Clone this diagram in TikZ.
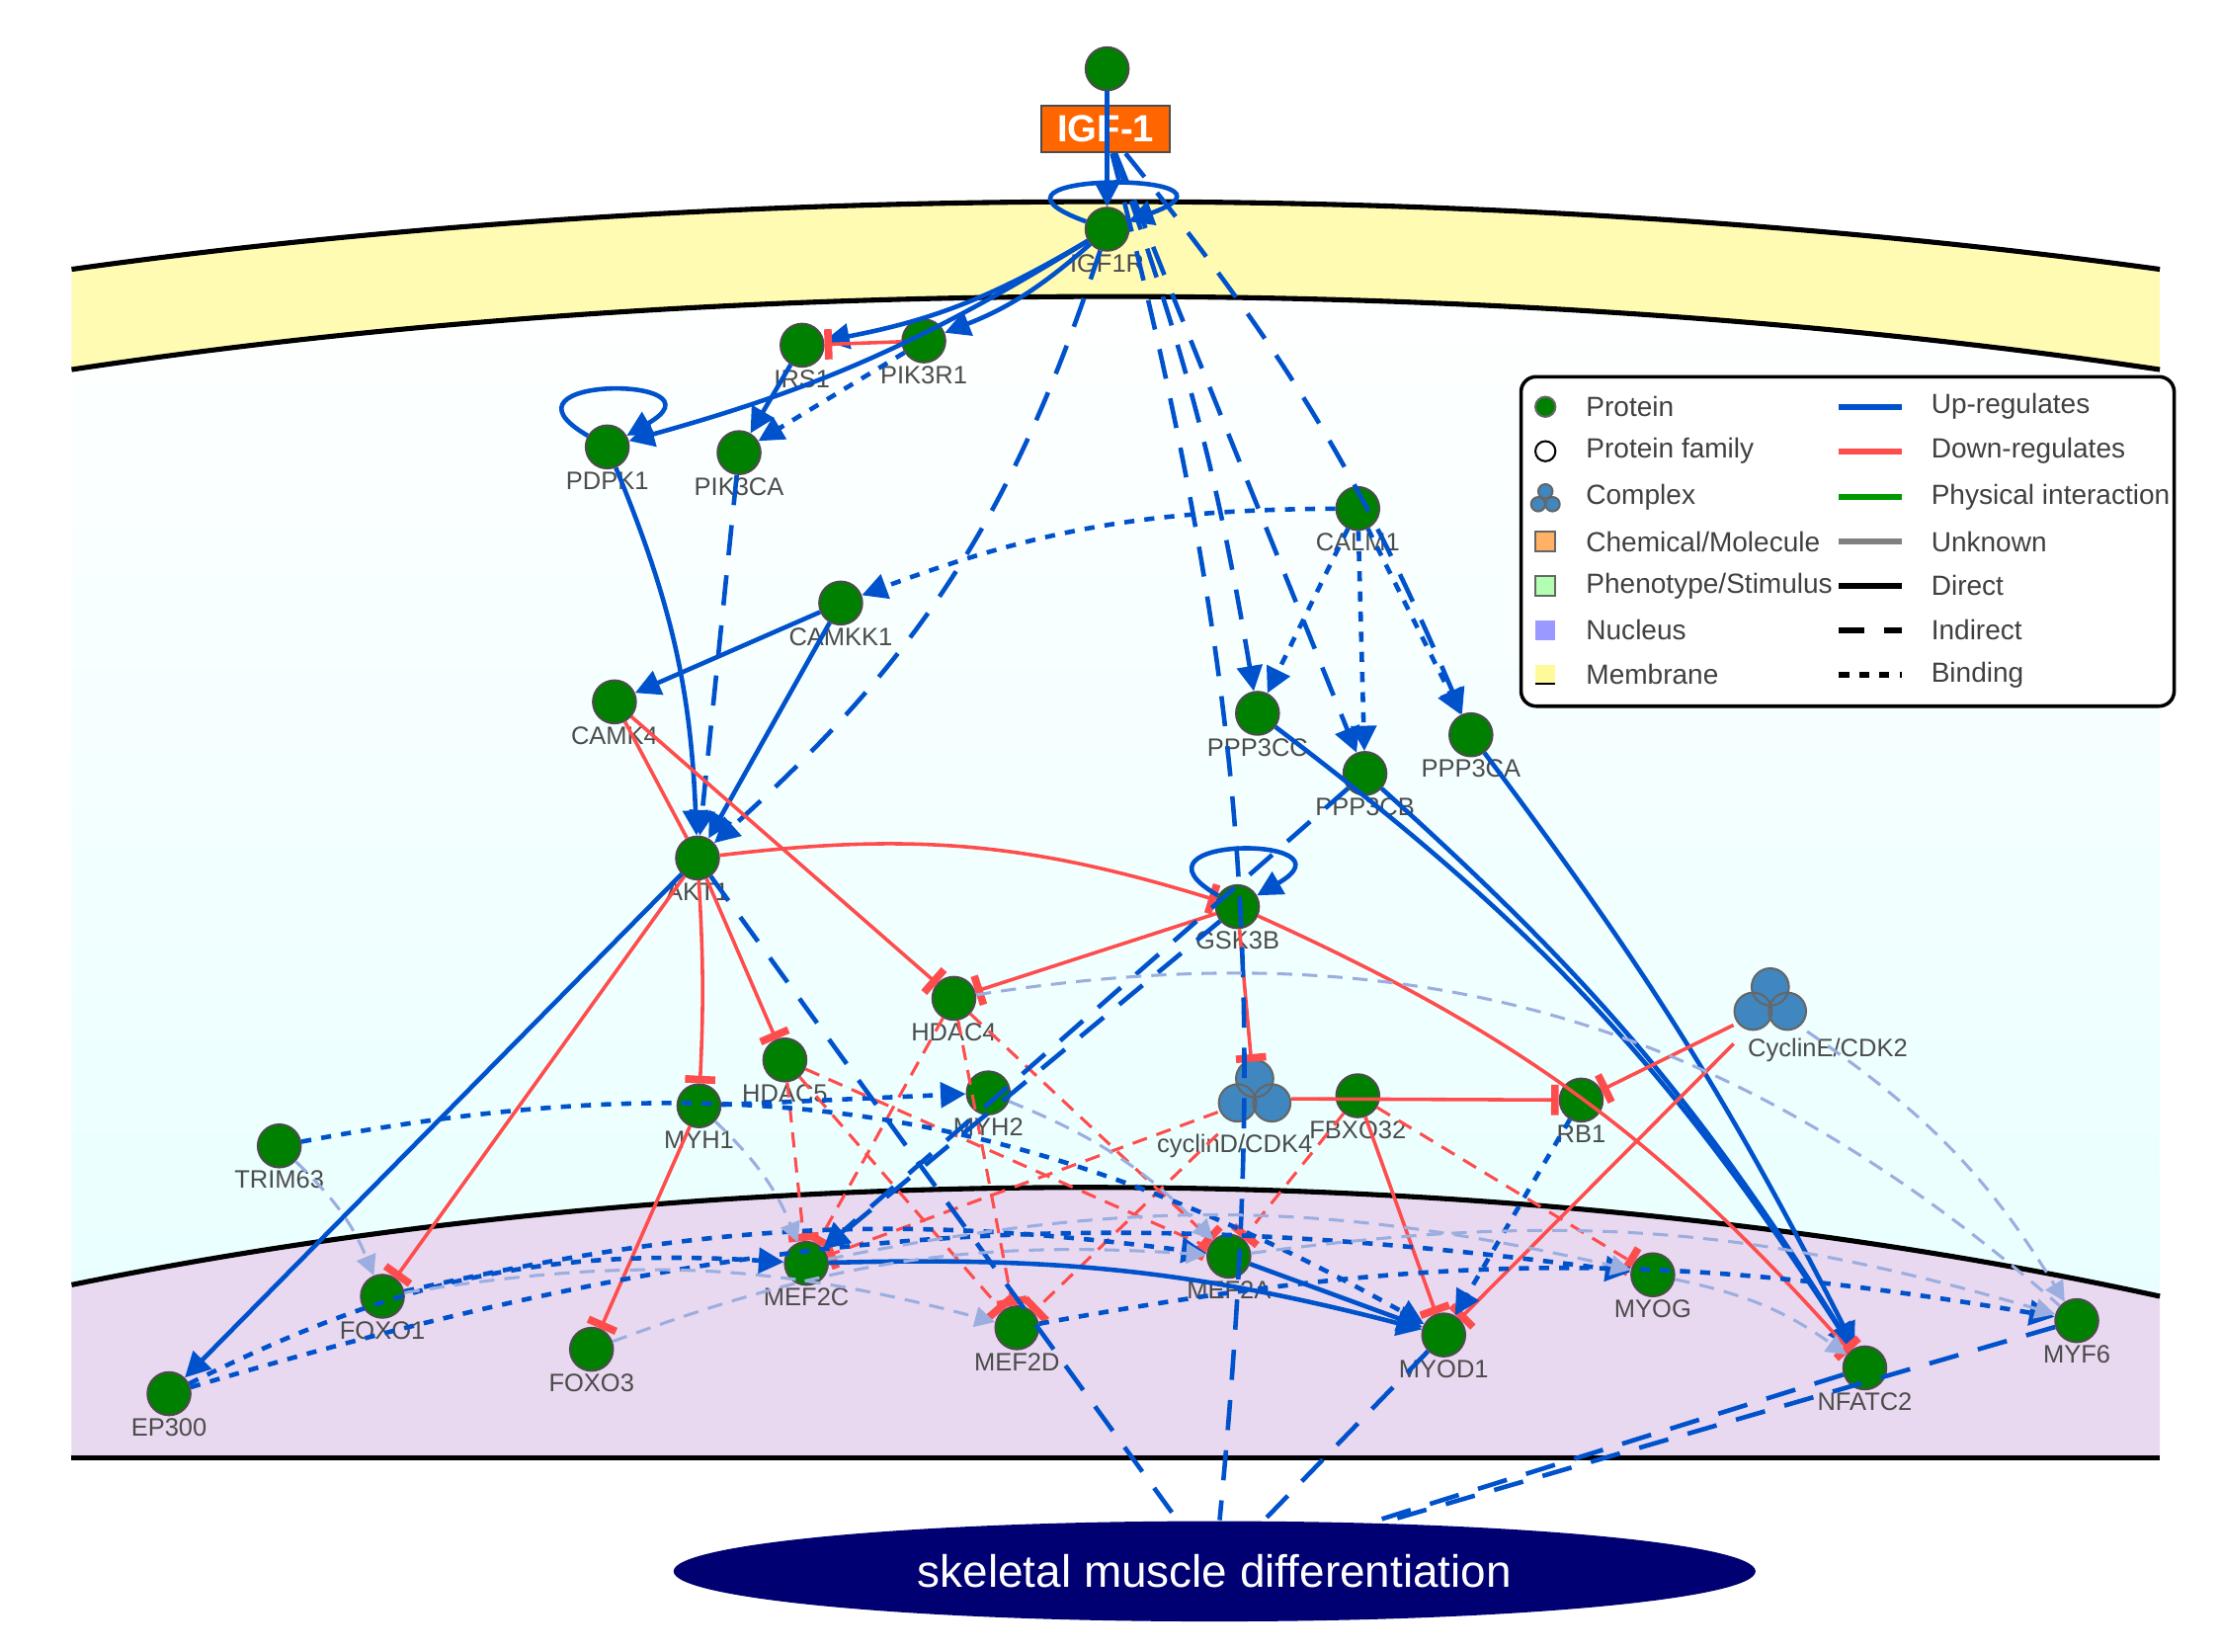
\documentclass[tikz,border=0pt]{standalone}
\usepackage{fontspec}
\setmainfont{Liberation Sans}
\usetikzlibrary{arrows.meta,shapes.geometric}
\begin{document}
\begin{tikzpicture}[x=0.01cm,y=-0.01cm,
 P/.style={circle,fill=green!50!black,draw=black!70,line width=0.4pt,minimum width=0.3cm,inner sep=0pt,label={[font=\fontsize{5}{6}\selectfont,text=black!70,inner sep=0.3pt]below:#1}},
 up/.style={draw=blue!60!cyan!80!black,line width=0.9pt,-{Triangle[width=5pt,length=5pt]}},
 down/.style={draw=red!70,line width=0.7pt,-{Bar[width=6pt,line width=1.5pt]}},
 ind/.style={draw=blue!60!cyan!80!black,line width=0.9pt,dash pattern=on 6pt off 4pt,-{Triangle[width=5pt,length=5pt]}},
 indn/.style={draw=blue!60!cyan!80!black,line width=0.9pt,dash pattern=on 6pt off 4pt},
 bind/.style={draw=blue!60!cyan!80!black,line width=0.9pt,dash pattern=on 2pt off 2pt,-{Triangle[width=5pt,length=5pt]}},
 rdash/.style={draw=red!70,line width=0.6pt,dash pattern=on 3pt off 2pt,-{Bar[width=6pt,line width=1.5pt]}},
 light/.style={draw=cyan!40!blue!40,line width=0.6pt,dash pattern=on 3pt off 2pt},
 lightarr/.style={light,-{Triangle[width=4pt,length=4pt]}},
 cx/.style={fill=blue!45!cyan!50!gray,draw=black!60}
]
\useasboundingbox (0,0) rectangle (1550,1153);
\fill[white] (0,0) rectangle (1550,1153);
\shade[top color=white,bottom color=cyan!10] (50,258) .. controls (500,190) and (1050,190) .. (1508,258) -- (1508,1018) -- (50,1018) -- cycle;
\fill[yellow!30] (50,188) .. controls (500,125) and (1050,125) .. (1508,188) -- (1508,258) .. controls (1050,190) and (500,190) .. (50,258) -- cycle;
\draw[line width=1pt] (50,188) .. controls (500,125) and (1050,125) .. (1508,188);
\draw[line width=1pt] (50,258) .. controls (500,190) and (1050,190) .. (1508,258);
\fill[blue!20!violet!15] (50,897) .. controls (500,805) and (1050,805) .. (1508,905) -- (1508,1018) -- (50,1018) -- cycle;
\draw[line width=1pt] (50,897) .. controls (500,805) and (1050,805) .. (1508,905);
\draw[line width=1pt] (50,1018) -- (1508,1018);

\node[P={}] (top) at (773,48) {};
\node[fill=orange!80!red,draw=black!70,text=white,font=\bfseries\fontsize{7.5}{9}\selectfont,minimum width=0.9cm,inner sep=2pt] (igf) at (772,90) {IGF-1};
\node[P=IGF1R] (igf1r) at (773,160) {};
\node[P=IRS1] (irs1) at (560,241) {};
\node[P=PIK3R1] (pik3r1) at (645,238) {};
\node[P=PDPK1] (pdpk1) at (424,312) {};
\node[P=PIK3CA] (pik3ca) at (516,316) {};
\node[P=CALM1] (calm1) at (948,355) {};
\node[P=CAMKK1] (camkk1) at (587,421) {};
\node[P=CAMK4] (camk4) at (429,490) {};
\node[P=PPP3CC] (ppp3cc) at (878,498) {};
\node[P=PPP3CB] (ppp3cb) at (953,540) {};
\node[P=PPP3CA] (ppp3ca) at (1027,513) {};
\node[P=AKT1] (akt1) at (487,599) {};
\node[P=GSK3B] (gsk3b) at (864,633) {};
\node[P=HDAC4] (hdac4) at (666,697) {};
\node[P=HDAC5] (hdac5) at (548,740) {};
\node[P=MYH1] (myh1) at (488,772) {};
\node[P=MYH2] (myh2) at (690,763) {};
\node[P=FBXO32] (fbxo) at (948,765) {};
\node[P=RB1] (rb1) at (1104,768) {};
\node[P=TRIM63] (trim) at (195,800) {};
\node[P=FOXO1] (foxo1) at (267,905) {};
\node[P=MEF2C] (mef2c) at (563,882) {};
\node[P=MEF2A] (mef2a) at (858,877) {};
\node[P=MYOG] (myog) at (1154,890) {};
\node[P=MYF6] (myf6) at (1450,922) {};
\node[P=FOXO3] (foxo3) at (413,942) {};
\node[P=MEF2D] (mef2d) at (710,927) {};
\node[P=MYOD1] (myod1) at (1008,932) {};
\node[P=NFATC2] (nfatc2) at (1302,955) {};
\node[P=EP300] (ep300) at (118,973) {};
\foreach \n/\x/\y in {cycd/876/767,cyce/1236/703}{
 \fill[cx] (\x-12,\y+3) circle (13) (\x+12,\y+3) circle (13) (\x,\y-14) circle (13);
 \node[inner sep=0pt,minimum size=0.5cm] (\n) at (\x,\y) {};
}
\node[font=\fontsize{5}{6}\selectfont,text=black!70,anchor=west] at (1208,733) {CyclinE/CDK2};
\node[font=\fontsize{5}{6}\selectfont,text=black!70] at (862,800) {cyclinD/CDK4};
\node[ellipse,fill=blue!45!black,minimum width=7.55cm,minimum height=0.7cm,inner sep=0pt,text=white,font=\fontsize{9}{11}\selectfont] (smd) at (848,1097) {skeletal muscle differentiation};

\draw[up] (top) -- (igf1r);
\draw[up] (igf1r) to[out=160,in=20,looseness=9] (igf1r);
\draw[up] (igf1r) to[bend left=10] (pik3r1);
\draw[up] (igf1r) to[bend left=10] (irs1);
\draw[down] (pik3r1) -- (irs1);
\draw[up] (igf1r) to[bend left=8] (pdpk1);
\draw[up] (irs1) -- (pik3ca);
\draw[bind] (pik3r1) -- (pik3ca);
\draw[up] (pdpk1) to[out=150,in=30,looseness=8] (pdpk1);
\draw[up] (pdpk1) to[bend left=10] (akt1);
\draw[ind] (igf1r) to[bend left=15] (akt1);
\draw[ind] (pik3ca) -- (akt1);
\draw[bind] (calm1) to[bend right=10] (camkk1);
\draw[up] (camkk1) -- (camk4);
\draw[up] (camkk1) -- (akt1);
\draw[ind] (igf) to[bend left=5] (ppp3cc);
\draw[ind] (igf) -- (ppp3cb);
\draw[ind] (igf) to[bend left=8] (ppp3ca);
\draw[bind] (calm1) -- (ppp3cc);
\draw[bind] (calm1) -- (ppp3cb);
\draw[bind] (calm1) -- (ppp3ca);
\draw[up] (ppp3cb) to[bend left=8] (nfatc2);
\draw[up] (ppp3ca) to[bend left=5] (nfatc2);
\draw[up] (ppp3cc) to[bend left=10] (nfatc2);
\draw[down] (camk4) -- (hdac4);
\draw[red!70,line width=0.7pt] (camk4) -- (akt1);
\draw[down] (akt1) to[bend left=12] (gsk3b);
\draw[down] (akt1) -- (hdac5);
\draw[down] (akt1) to[bend left=3] (myh1);
\draw[down] (akt1) -- (foxo1);
\draw[down] (myh1) -- (foxo3);
\draw[up] (akt1) -- (ep300);
\draw[up] (gsk3b) to[out=150,in=30,looseness=8] (gsk3b);
\draw[down] (gsk3b) -- (hdac4);
\draw[down] (gsk3b) -- (cycd);
\draw[down] (gsk3b) to[bend left=12] (nfatc2);
\draw[down] (cycd) -- (rb1);
\draw[down] (cyce) -- (rb1);
\draw[down] (cyce) -- (myod1);
\draw[down] (fbxo) -- (myod1);
\foreach \a/\b in {hdac4/mef2c,hdac4/mef2d,hdac4/mef2a,hdac5/mef2c,hdac5/mef2d,hdac5/mef2a,fbxo/mef2a,fbxo/myog,cycd/mef2c,cycd/mef2d}
 \draw[rdash] (\a) -- (\b);
\draw[indn] (akt1) -- (smd);
\draw[indn] (igf) to[bend left=10] (smd);
\draw[ind] (gsk3b) -- (mef2c);
\draw[ind] (ppp3cb) -- (mef2c);
\draw[indn] (nfatc2) -- (smd);
\draw[indn] (myf6) -- (smd);
\draw[indn] (myod1) -- (smd);
\draw[bind] (trim) to[bend left=20] (myod1);
\draw[bind] (ep300) to[bend left=15] (mef2c);
\draw[bind] (ep300) to[bend left=12] (myog);
\draw[bind] (foxo1) to[bend left=10] (mef2a);
\draw[bind] (mef2d) to[bend left=10] (myf6);
\draw[bind] (rb1) -- (myod1);
\draw[bind] (myh1) -- (myh2);
\draw[up] (mef2a) -- (myod1);
\draw[up] (mef2c) to[bend left=8] (myod1);
\foreach \a/\b in {myh1/mef2c,myh2/mef2a,foxo1/mef2d,foxo3/mef2a,mef2c/myog,mef2a/myf6,cyce/myf6,myog/nfatc2,trim/foxo1}
 \draw[lightarr] (\a) to[bend left=12] (\b);
\draw[light] (hdac4) to[bend left=25] (myf6);

\draw[rounded corners=3pt,fill=white,line width=0.7pt] (1062,263) rectangle (1518,493);
\begin{scope}[font=\fontsize{5.5}{7}\selectfont,text=black!75]
\fill[green!50!black,draw=black!60] (1079,284) circle (7);
\draw (1079,315) circle (7);
\fill[cx] (1074,352) circle (5) (1084,352) circle (5) (1079,343) circle (5);
\fill[orange!60,draw=black!60] (1072,371) rectangle (1086,385);
\fill[green!30,draw=black!60] (1072,402) rectangle (1086,416);
\fill[blue!40] (1072,433) rectangle (1086,447);
\fill[yellow!40] (1072,464) rectangle (1086,478); \draw (1072,477)--(1086,477);
\foreach \y/\t in {284/{Protein},315/{Protein family},347/{Complex},378/{Chemical/Molecule},409/{Phenotype/Stimulus},440/{Nucleus},471/{Membrane}}
 \node[anchor=west] at (1095,\y) {\t};
\draw[blue!60!cyan!80!black,line width=1.2pt] (1284,284)--(1328,284);
\draw[red!70,line width=1.2pt] (1284,315)--(1328,315);
\draw[green!60!black,line width=1.2pt] (1284,347)--(1328,347);
\draw[gray,line width=1.2pt] (1284,378)--(1328,378);
\draw[black,line width=1.2pt] (1284,409)--(1328,409);
\draw[black,line width=1.2pt,dash pattern=on 5pt off 4pt] (1284,440)--(1328,440);
\draw[black,line width=1.2pt,dash pattern=on 2pt off 2pt] (1284,471)--(1328,471);
\foreach \y/\t in {284/Up-regulates,315/Down-regulates,347/Physical interaction,378/Unknown,409/Direct,440/Indirect,471/Binding}
 \node[anchor=west] at (1336,\y) {\t};
\end{scope}
\end{tikzpicture}
\end{document}
